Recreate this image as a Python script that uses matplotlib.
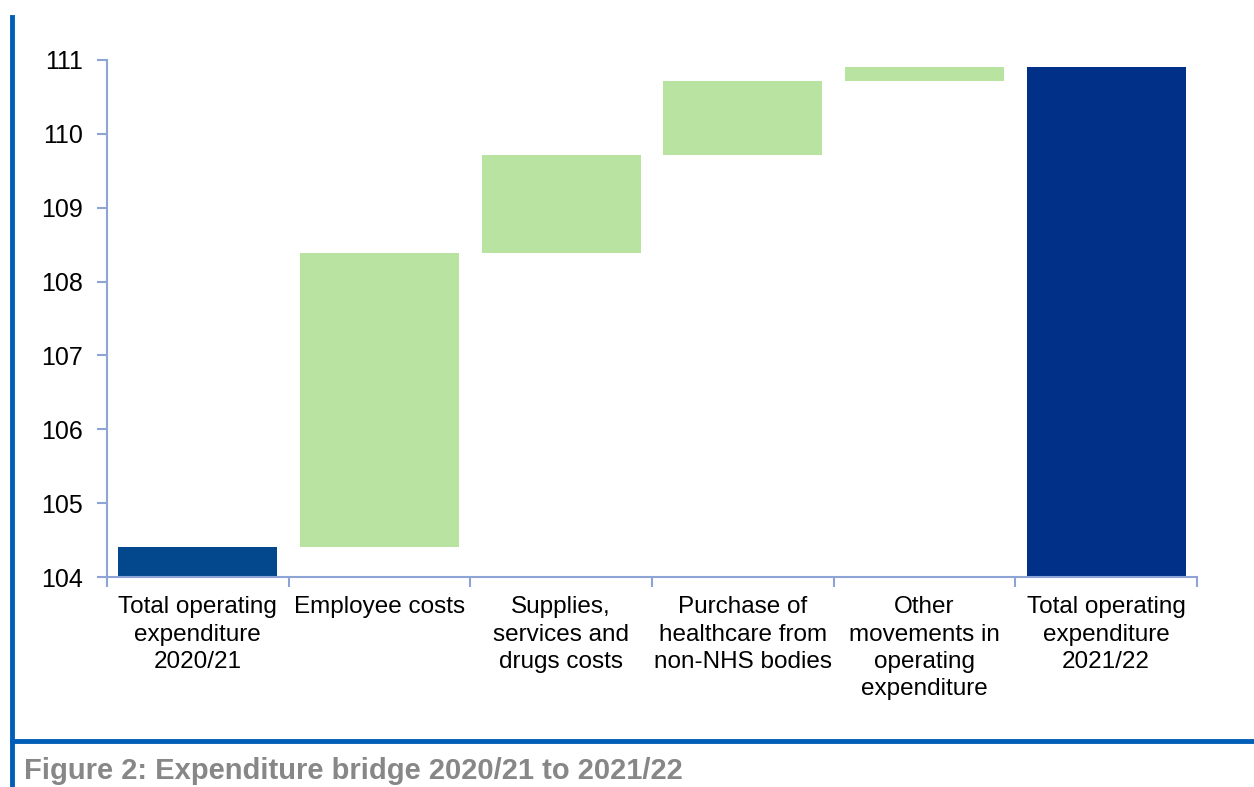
import numpy as np
import matplotlib.pyplot as plt
from matplotlib.lines import Line2D

plt.rcParams['font.family'] = ['Liberation Sans', 'DejaVu Sans']

# Datos del puente de gasto (miles de millones)
categories = ['Total operating\nexpenditure\n2020/21', 'Employee costs',
              'Supplies,\nservices and\ndrugs costs', 'Purchase of\nhealthcare from\nnon-NHS bodies',
              'Other\nmovements in\noperating\nexpenditure', 'Total operating\nexpenditure\n2021/22']
start_total = 104.41
changes = [3.98, 1.32, 1.01, 0.18]
end_total = 110.9

fig = plt.figure(figsize=(12.54, 7.87), dpi=100)
ax = fig.add_axes([0.0853, 0.2668, 0.8692, 0.657])

x = np.arange(len(categories))
w = 0.875
base = 104

# barras totales
ax.bar(x[0], start_total - base, bottom=base, width=w, color='#03488C')
ax.bar(x[-1], end_total - base, bottom=base, width=w, color='#003087')

# barras de cambio
bottoms = start_total + np.concatenate([[0], np.cumsum(changes)[:-1]])
ax.bar(x[1:-1], changes, bottom=bottoms, width=w, color='#B8E3A0')

ax.set_xlim(-0.5, len(categories) - 0.5)
ax.set_ylim(104, 111)
ax.set_yticks(range(104, 112))
ax.set_xticks(x)
ax.set_xticklabels(categories, fontsize=17.5, linespacing=1.3, va='top')
ax.set_xticks(np.arange(-0.5, len(categories)), minor=True)

axis_col = '#8EA3D6'
for s in ['top', 'right']:
    ax.spines[s].set_visible(False)
for s in ['left', 'bottom']:
    ax.spines[s].set_color(axis_col)
    ax.spines[s].set_linewidth(1.5)
ax.tick_params(axis='x', which='major', length=0, pad=14)
ax.tick_params(axis='x', which='minor', length=7, color=axis_col, width=1.5)
ax.tick_params(axis='y', length=7, color=axis_col, width=1.5, labelsize=18, pad=10)

# marco azul y pie de figura
fig.add_artist(Line2D([12 / 1254, 12 / 1254], [0, 1 - 17 / 787], color='#005EB8', lw=3.5,
                      transform=fig.transFigure))
fig.add_artist(Line2D([12 / 1254, 1], [1 - 741 / 787, 1 - 741 / 787], color='#005EB8', lw=3.5,
                      transform=fig.transFigure))
fig.text(24 / 1254, 1 - 771 / 787, 'Figure 2: Expenditure bridge 2020/21 to 2021/22',
         fontsize=21, fontweight='bold', color='#878787', va='center', ha='left')

plt.savefig('out.png', dpi=100)
